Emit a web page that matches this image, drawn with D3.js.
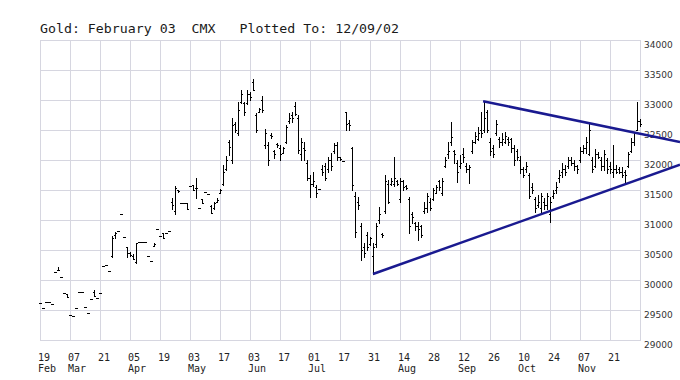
<!DOCTYPE html>
<html><head><meta charset="utf-8">
<script src="https://cdn.jsdelivr.net/npm/d3@7"></script>
<style>body{margin:0;background:#fff}svg{display:block}</style>
</head><body><svg id="c" width="680" height="380"></svg>
<script>
const titleText = "Gold: February 03  CMX   Plotted To: 12/09/02";
const dayLabels = ["19","07","21","05","19","03","17","03","17","01","17","31","14","28","12","26","10","24","07","21"];
const monthLabels = ["Feb","Mar","","Apr","","May","","Jun","","Jul","","","Aug","","Sep","","Oct","","Nov",""];
const yTickValues = [29000,29500,30000,30500,31000,31500,32000,32500,33000,33500,34000];

const highs = [
29620,29540,29630,29630,29600,30130,30220,30050,29780,29770,
29420,29400,29540,29800,29800,29550,29450,29680,29830,29700,
29780,30230,30250,30150,30730,30800,30820,31100,30710,30550,
30470,30430,30620,30630,30630,30630,30400,30320,30620,30850,
30730,30780,30790,30820,31370,31560,31500,31280,31280,31280,
31570,31580,31700,31200,31350,31460,31430,31250,31300,31370,
31520,31920,32070,32330,32700,32630,32970,33170,32970,33170,
33130,33350,32780,32870,33070,32520,32300,32450,32170,32280,
32250,32220,32580,32780,32800,32970,32750,32360,32300,32000,
31750,31800,31580,31510,31920,31950,32050,32110,32280,32300,
32050,31980,32800,32670,32210,31470,31390,30950,30610,30800,
30720,30620,30950,31220,30780,31750,31670,31700,32050,31670,
31700,31670,31580,31390,31140,30970,30970,30920,31300,31450,
31360,31530,31580,31670,31700,32050,32300,32640,32170,32000,
32080,32200,31950,31920,32330,32470,32550,32800,32980,32830,
32360,32250,32670,32390,32450,32470,32390,32360,32250,32190,
32060,31890,31970,31780,31610,31390,31420,31450,31360,31450,
31390,31500,31640,31830,31950,31920,32050,32050,32000,31920,
32220,32250,32390,32610,32050,32190,32140,32050,32170,32030,
31970,32250,31920,31890,31890,31830,32140,32360,32470,32970,
32690];
const lows = [
29620,29540,29630,29630,29600,30130,30170,30050,29780,29720,
29420,29400,29540,29800,29800,29550,29450,29680,29730,29700,
29780,30230,30250,30150,30380,30700,30820,31100,30710,30380,
30400,30350,30280,30630,30630,30630,30400,30320,30560,30850,
30730,30700,30790,30820,31190,31100,31470,31280,31280,31180,
31570,31500,31360,31200,31280,31460,31430,31110,31180,31300,
31450,31580,31830,32080,31950,32470,32420,32950,32750,32930,
33000,33170,32470,32800,32800,32200,31920,32370,32030,32220,
32000,32110,32280,32610,32640,32750,32110,32000,32000,31670,
31390,31560,31390,31510,31750,31670,31800,31830,32110,32000,
32000,31980,32500,32500,31500,30720,31190,30330,30390,30500,
30580,30100,30550,30950,30720,31120,31280,31580,31560,31580,
31300,31500,31520,30780,30950,30830,30670,30720,31110,31140,
31170,31330,31450,31500,31420,31890,32030,32250,31950,31640,
31860,31970,31800,31610,32110,32280,32330,32390,32470,32470,
32080,32050,32420,32220,32250,32280,32250,32140,31920,32000,
31780,31720,31800,31360,31450,31140,31220,31140,31190,31190,
30970,31360,31450,31640,31720,31750,31860,31920,31830,31780,
31970,32110,32110,32080,31800,31890,32030,31830,31830,31780,
31780,31720,31780,31780,31720,31640,31890,32140,32250,32500,
32560];
const opens = [
29620,29540,29630,29630,29600,30130,30170,30050,29780,29770,
29420,29400,29540,29800,29800,29550,29450,29680,29800,29700,
29780,30230,30250,30150,30400,30750,30820,31100,30710,30550,
30450,30400,30300,30630,30630,30630,30400,30320,30560,30850,
30730,30780,30790,30820,31300,31150,31500,31280,31280,31280,
31570,31580,31530,31200,31350,31460,31430,31230,31200,31300,
31450,31600,31850,32300,32000,32600,32450,32970,32950,32950,
33100,33300,32750,32800,33000,32250,32250,32420,32150,32270,
32200,32120,32300,32650,32750,32900,32700,32100,32200,31950,
31700,31600,31550,31510,31850,31900,31850,32000,32150,32250,
32050,31980,32800,32620,32200,31400,31300,30900,30550,30750,
30600,30400,30600,31000,30770,31150,31600,31600,31600,31650,
31350,31650,31570,31350,31100,30950,30900,30900,31150,31200,
31300,31350,31450,31650,31450,31900,32100,32300,32150,31950,
31900,32100,31900,31850,32150,32300,32350,32500,32500,32800,
32300,32200,32450,32350,32300,32300,32350,32350,32200,32150,
32000,31850,31850,31750,31550,31350,31250,31200,31300,31250,
31100,31400,31500,31700,31800,31850,31900,32000,31950,31900,
32000,32150,32200,32100,32000,31900,32100,32000,31900,32000,
31900,31800,31850,31850,31800,31800,31900,32150,32300,32500,
32650];
const closes = [
29620,29540,29630,29630,29600,30130,30170,30050,29780,29720,
29420,29400,29540,29800,29800,29550,29450,29680,29730,29700,
29780,30230,30250,30150,30700,30780,30820,31100,30710,30450,
30420,30350,30620,30630,30630,30630,30400,30320,30600,30850,
30730,30700,30790,30820,31250,31540,31480,31280,31280,31180,
31570,31500,31530,31200,31280,31460,31430,31110,31280,31330,
31500,31800,32000,32220,32580,32500,32830,33100,32800,33100,
33050,33170,32500,32850,32830,32450,32000,32400,32100,32250,
32100,32200,32550,32700,32700,32770,32170,32300,32170,31700,
31600,31650,31450,31510,31800,31700,32000,31900,32250,32050,
32020,31980,32600,32580,31580,30800,31250,30500,30450,30550,
30700,30550,30900,31100,30750,31650,31300,31650,31700,31600,
31650,31550,31530,30900,31050,30900,30850,30750,31200,31400,
31200,31500,31550,31550,31650,32000,32150,32380,32100,31800,
31950,32050,31850,31890,32300,32400,32450,32450,32700,32500,
32150,32100,32600,32300,32350,32400,32300,32200,32000,32050,
31850,31750,31900,31400,31500,31200,31300,31400,31250,31400,
31300,31450,31550,31750,31850,31800,32000,31950,31900,31850,
32150,32200,32300,32500,31850,32100,32050,31900,32100,31850,
31850,31850,31800,31800,31750,31750,32100,32300,32450,32650,
32600];

// trendline anchor points: [bar index, price]
const upperTrend = [[147.7, 32980], [213.33, 32300]];
const lowerTrend = [[111, 30100], [213.33, 31920]];

(function () {
const svg = d3.select("#c");
const W = 680, H = 380;
const pL = 40, pR = 640, pT = 40, pB = 340;
const x = d3.scaleLinear().domain([0, 200]).range([pL, pR]);
const y = d3.scaleLinear().domain([29000, 34000]).range([pB, pT]);
const gridColor = "#d6d6e0";

svg.append("rect").attr("width", W).attr("height", H).attr("fill", "#fff");

// Title
svg.append("text").attr("x", 40).attr("y", 33)
  .attr("font-family", "'DejaVu Sans Mono', monospace").attr("font-size", 12)
  .attr("fill", "#1a1a1a").attr("textLength", 359).attr("lengthAdjust", "spacingAndGlyphs")
  .style("white-space", "pre")
  .text(titleText);

// grid
const grid = svg.append("g").attr("shape-rendering", "crispEdges");
grid.selectAll("line.v").data(d3.range(0, 201, 10)).join("line").attr("class", "v")
  .attr("x1", d => Math.round(x(d)) + 0.5).attr("x2", d => Math.round(x(d)) + 0.5)
  .attr("y1", pT).attr("y2", pB).attr("stroke", gridColor);
grid.selectAll("line.h").data(yTickValues).join("line").attr("class", "h")
  .attr("y1", d => Math.round(y(d)) + 0.5).attr("y2", d => Math.round(y(d)) + 0.5)
  .attr("x1", pL).attr("x2", pR + 1).attr("stroke", gridColor);

// y axis labels
const yAxis = svg.append("g").attr("transform", `translate(${pR + 4},0)`)
  .call(d3.axisRight(y).tickValues(yTickValues).tickSize(0).tickPadding(0).tickFormat(d3.format("d")));
yAxis.select(".domain").remove();
yAxis.selectAll("text").attr("font-family", "'DejaVu Sans', sans-serif").attr("font-size", 9)
  .attr("fill", "#333").attr("dy", null).attr("y", 7.5).attr("x", 0);

// x labels
const xl = svg.append("g").attr("font-family", "'DejaVu Sans Mono', monospace").attr("font-size", 10).attr("fill", "#222");
dayLabels.forEach((d, k) => {
  const t = xl.append("text");
  t.append("tspan").attr("x", x(k * 10) - 2).attr("y", 361).text(d);
  if (monthLabels[k]) t.append("tspan").attr("x", x(k * 10) - 2).attr("y", 372).text(monthLabels[k]);
});

// OHLC bars
const bars = svg.append("g").attr("fill", "#000").attr("shape-rendering", "crispEdges");
const idx = d3.range(highs.length);
bars.selectAll("rect.hl").data(idx).join("rect").attr("class", "hl")
  .attr("x", i => Math.round(x(i)))
  .attr("y", i => Math.round(y(highs[i])))
  .attr("width", 1)
  .attr("height", i => Math.max(1, Math.round(y(lows[i])) - Math.round(y(highs[i])) + 1));
bars.selectAll("rect.o").data(idx).join("rect").attr("class", "o")
  .attr("x", i => Math.round(x(i)) - 1).attr("y", i => Math.round(y(opens[i])))
  .attr("width", 1).attr("height", 1);
bars.selectAll("rect.c").data(idx).join("rect").attr("class", "c")
  .attr("x", i => Math.round(x(i)) + 1).attr("y", i => Math.round(y(closes[i])))
  .attr("width", 1).attr("height", 1);

// trendlines
const line = d3.line().x(d => x(d[0])).y(d => y(d[1]));
svg.append("g").selectAll("path").data([upperTrend, lowerTrend]).join("path")
  .attr("d", line).attr("fill", "none").attr("stroke", "#1a1a90").attr("stroke-width", 2.5);
})();
</script>
</body></html>
